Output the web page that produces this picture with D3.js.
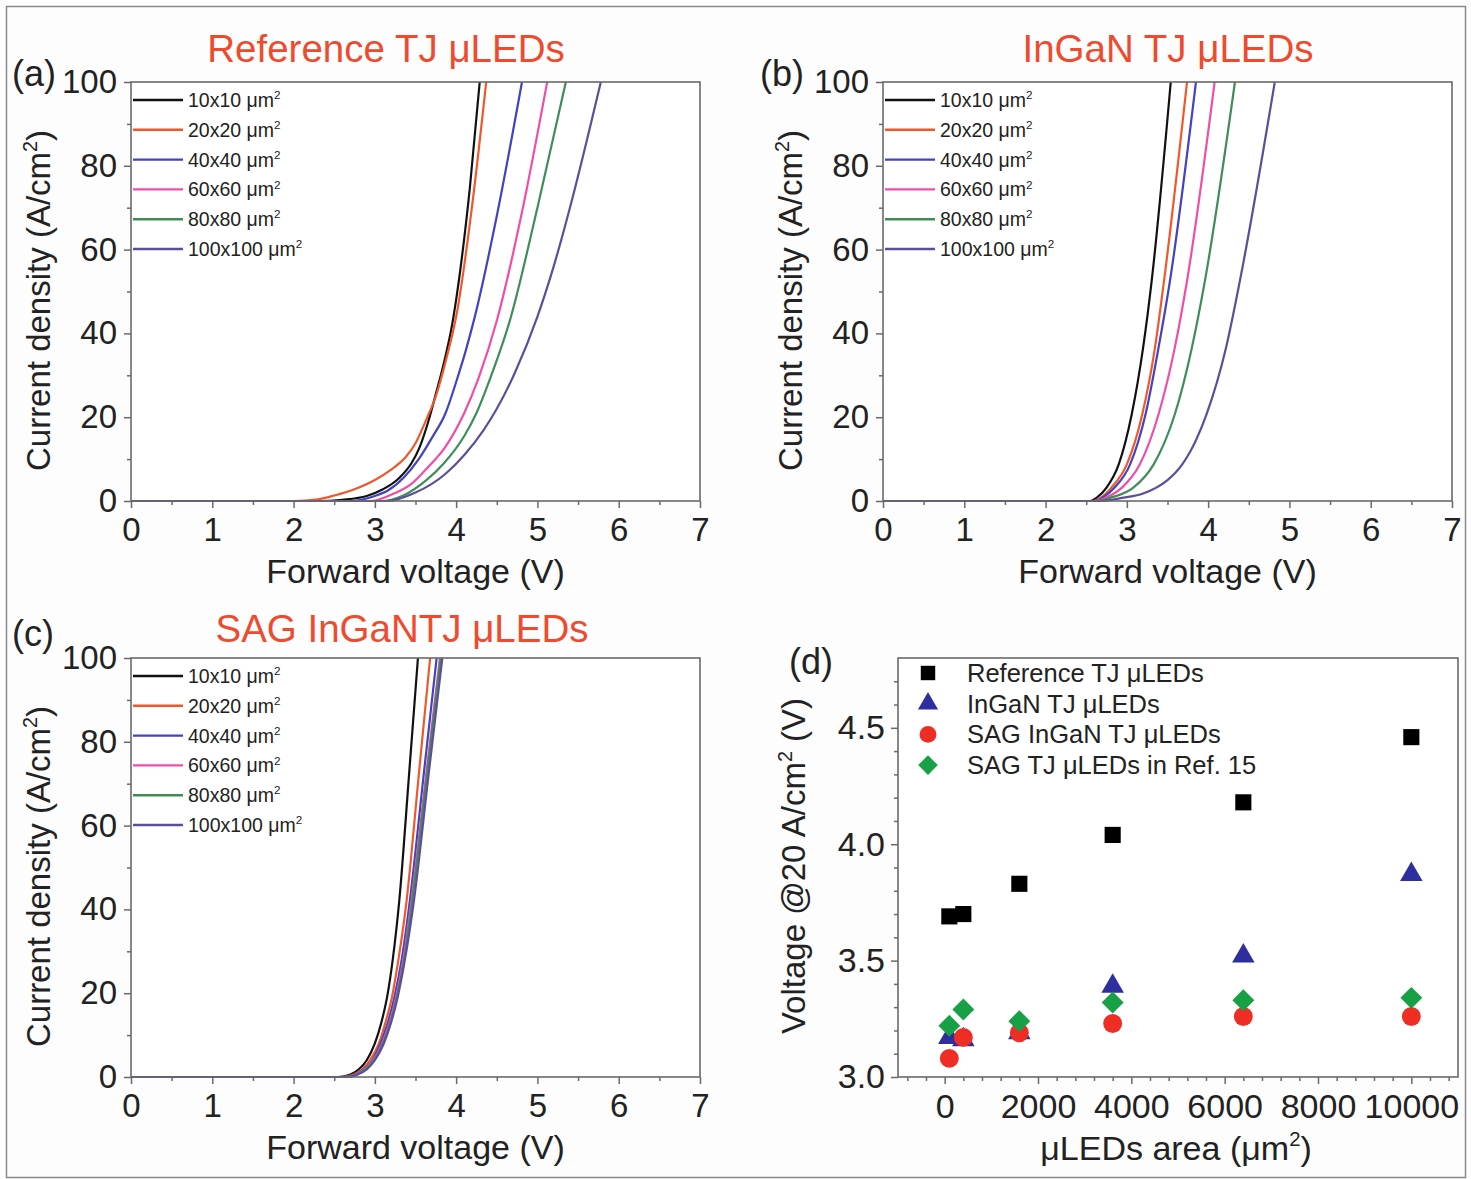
<!DOCTYPE html>
<html>
<head>
<meta charset="utf-8">
<script src="https://cdn.jsdelivr.net/npm/d3@7"></script>
<style>
  body { margin: 0; background: #ffffff; }
</style>
</head>
<body>
<script>
const width = 1471;
const height = 1179;
const font = "'Liberation Sans', Arial, Helvetica, sans-serif";

// ---- data ----
const sizes = ["10x10", "20x20", "40x40", "60x60", "80x80", "100x100"];
const voltTicks = [0, 1, 2, 3, 4, 5, 6, 7];
const voltMinor = [0.5, 1.5, 2.5, 3.5, 4.5, 5.5, 6.5];
const currentTicks = [0, 20, 40, 60, 80, 100];
const currentMinor = [10, 30, 50, 70, 90];

// (a) Reference TJ uLEDs: [voltage V, current density A/cm2]
const refTJ = [
  [[0, 0], [2.3, 0], [2.6, 0.3], [2.9, 1.2], [3.1, 2.8], [3.3, 5.5], [3.45, 9], [3.55, 12.8], [3.65, 18.5], [3.75, 25.5], [3.85, 33], [3.95, 42], [4.05, 55], [4.17, 75], [4.29, 100]],
  [[0, 0], [2.0, 0], [2.3, 0.4], [2.5, 1.3], [2.75, 2.8], [3.0, 5], [3.2, 7.5], [3.38, 10.5], [3.5, 13.8], [3.63, 19.3], [3.75, 25], [3.88, 34], [4.01, 45], [4.2, 71], [4.37, 100]],
  [[0, 0], [2.7, 0], [3.0, 1.2], [3.16, 2.5], [3.35, 5.5], [3.54, 10], [3.7, 15], [3.87, 21], [4.01, 29], [4.12, 36], [4.23, 44], [4.5, 68], [4.81, 100]],
  [[0, 0], [2.95, 0], [3.2, 1.5], [3.45, 4.1], [3.65, 8], [3.87, 13], [4.1, 21], [4.27, 29], [4.5, 43], [4.8, 68], [5.12, 100]],
  [[0, 0], [3.1, 0], [3.35, 1.3], [3.63, 4.9], [3.85, 9], [4.1, 15.5], [4.25, 21], [4.41, 28.8], [4.66, 43], [5.0, 70], [5.35, 100]],
  [[0, 0], [3.15, 0], [3.5, 2], [3.87, 6.5], [4.1, 11], [4.34, 17], [4.5, 22], [4.72, 30.5], [5.0, 44], [5.2, 56], [5.4, 70], [5.78, 100]]
];

// (b) InGaN TJ uLEDs
const inganTJ = [
  [[0, 0], [2.55, 0], [2.63, 0.8], [2.75, 3.2], [2.9, 8.75], [3.06, 20.7], [3.2, 36.6], [3.305, 52.5], [3.54, 100]],
  [[0, 0], [2.58, 0], [2.68, 0.8], [2.81, 3.2], [3.0, 8.75], [3.19, 20.7], [3.346, 36.6], [3.457, 52.5], [3.74, 100]],
  [[0, 0], [2.6, 0], [2.7, 0.8], [2.85, 3.2], [3.04, 8.75], [3.23, 20.7], [3.39, 36.6], [3.53, 52.5], [3.85, 100]],
  [[0, 0], [2.6, 0], [2.74, 0.8], [2.94, 3.2], [3.16, 8.75], [3.39, 20.7], [3.59, 36.6], [3.74, 52.5], [4.08, 100]],
  [[0, 0], [2.62, 0], [2.8, 0.8], [3.08, 3.2], [3.33, 8.75], [3.59, 20.7], [3.8, 36.6], [3.96, 52.5], [4.33, 100]],
  [[0, 0], [2.65, 0], [2.96, 0.8], [3.2, 1.8], [3.5, 5], [3.6, 6.8], [3.69, 9], [3.78, 11.8], [3.85, 14.5], [3.98, 20.7], [4.22, 36.6], [4.39, 52.5], [4.82, 100]]
];

// (c) SAG InGaN TJ uLEDs
const sagTJ = [
  [[0, 0], [2.55, 0], [2.7, 0.6], [2.8, 1.8], [2.9, 4], [3.0, 8], [3.08, 13], [3.15, 19], [3.22, 28], [3.3, 42], [3.42, 72], [3.53, 100]],
  [[0, 0], [2.6, 0], [2.74, 0.6], [2.84, 1.8], [2.94, 4], [3.05, 8], [3.13, 13], [3.21, 19], [3.29, 28], [3.39, 42], [3.54, 72], [3.68, 100]],
  [[0, 0], [2.62, 0], [2.76, 0.6], [2.86, 1.8], [2.97, 4], [3.07, 8], [3.16, 13], [3.24, 19], [3.33, 28], [3.43, 42], [3.6, 72], [3.76, 100]],
  [[0, 0], [2.63, 0], [2.77, 0.6], [2.87, 1.8], [2.98, 4], [3.09, 8], [3.18, 13], [3.26, 19], [3.35, 28], [3.45, 42], [3.63, 72], [3.8, 100]],
  [[0, 0], [2.64, 0], [2.78, 0.6], [2.88, 1.8], [2.99, 4], [3.1, 8], [3.19, 13], [3.27, 19], [3.36, 28], [3.46, 42], [3.64, 72], [3.81, 100]],
  [[0, 0], [2.65, 0], [2.79, 0.6], [2.9, 1.8], [3.0, 4], [3.11, 8], [3.2, 13], [3.28, 19], [3.37, 28], [3.48, 42], [3.66, 72], [3.83, 100]]
];

// (d) voltage at 20 A/cm2 vs area
const areas = [100, 400, 1600, 3600, 6400, 10000];
const vRefTJ = [3.69, 3.70, 3.83, 4.04, 4.18, 4.46];
const vInGaNTJ = [3.17, 3.16, 3.19, 3.39, 3.52, 3.87];
const vSagInGaNTJ = [3.08, 3.17, 3.19, 3.23, 3.26, 3.26];
const vSagRef15 = [3.22, 3.29, 3.24, 3.32, 3.33, 3.34];
const areaTicks = [0, 2000, 4000, 6000, 8000, 10000];
const areaMinor = [-800, -400, 400, 800, 1200, 1600, 2400, 2800, 3200, 3600, 4400, 4800, 5200, 5600, 6400, 6800, 7200, 7600, 8400, 8800, 9200, 9600, 10400, 10800];
const v20Ticks = [3.0, 3.5, 4.0, 4.5];
const v20Minor = [3.1, 3.2, 3.3, 3.4, 3.6, 3.7, 3.8, 3.9, 4.1, 4.2, 4.3, 4.4, 4.6, 4.7];

const colors = {
  curves: ["#111111", "#F0582C", "#4242C2", "#EE4EA8", "#3F8E58", "#5C4E9C"],
  title: "#EE4B2E",
  axis: "#6a6a6a",
  text: "#222222",
  square: "#000000",
  triangle: "#2E2E9E",
  circle: "#EE2E24",
  diamond: "#17A045"
};

const svg = d3.select("body").append("svg")
  .attr("width", width)
  .attr("height", height)
  .attr("viewBox", `0 0 ${width} ${height}`);

svg.append("rect").attr("width", width).attr("height", height).attr("fill", "#fdfdfd");
svg.append("rect")
  .attr("x", 6.5).attr("y", 6.5)
  .attr("width", 1459).attr("height", 1171)
  .attr("fill", "none").attr("stroke", "#8a8a8a").attr("stroke-width", 1.5);

function styleAxis(g, size) {
  g.select(".domain").remove();
  g.selectAll(".tick line").attr("stroke", colors.axis).attr("stroke-width", 1.5);
  g.selectAll("text")
    .attr("fill", colors.text)
    .attr("font-family", font)
    .attr("font-size", size);
}

function addText(x, y, str, opts = {}) {
  return svg.append("text")
    .attr("x", x).attr("y", y)
    .attr("fill", opts.fill || colors.text)
    .attr("font-family", font)
    .attr("font-size", opts.size || 33)
    .attr("text-anchor", opts.anchor || "middle")
    .text(str);
}

// text with a raised "2" after a base string
function supText(parent, base, after, size) {
  parent.append("tspan").text(base);
  parent.append("tspan").attr("font-size", size * 0.6).attr("dy", -size * 0.4).text("2");
  parent.append("tspan").attr("dy", size * 0.4).text(after);
}

function drawFrame(p) {
  svg.append("rect")
    .attr("x", p.left).attr("y", p.top)
    .attr("width", p.right - p.left).attr("height", p.bottom - p.top)
    .attr("fill", "#ffffff");
}

function drawFrameLine(p) {
  svg.append("rect")
    .attr("x", p.left).attr("y", p.top)
    .attr("width", p.right - p.left).attr("height", p.bottom - p.top)
    .attr("fill", "none").attr("stroke", colors.axis).attr("stroke-width", 1.6);
}

function drawIV(p) {
  const x = d3.scaleLinear().domain([0, 7]).range([p.left, p.right]);
  const y = d3.scaleLinear().domain([0, 100]).range([p.bottom, p.top]);

  drawFrame(p);

  svg.append("g").attr("transform", `translate(0,${p.bottom})`)
    .call(d3.axisBottom(x).tickValues(voltMinor).tickSize(4).tickFormat(""))
    .call((g) => styleAxis(g, 33));
  svg.append("g").attr("transform", `translate(0,${p.bottom})`)
    .call(d3.axisBottom(x).tickValues(voltTicks).tickSize(7).tickPadding(10).tickFormat(d3.format("d")))
    .call((g) => styleAxis(g, 33));
  svg.append("g").attr("transform", `translate(${p.left},0)`)
    .call(d3.axisLeft(y).tickValues(currentMinor).tickSize(4).tickFormat(""))
    .call((g) => styleAxis(g, 33));
  svg.append("g").attr("transform", `translate(${p.left},0)`)
    .call(d3.axisLeft(y).tickValues(currentTicks).tickSize(7).tickPadding(7).tickFormat(d3.format("d")))
    .call((g) => styleAxis(g, 33));

  const line = d3.line()
    .x((d) => x(d[0]))
    .y((d) => y(d[1]))
    .curve(d3.curveMonotoneX);

  svg.append("g").selectAll("path")
    .data(p.curves)
    .join("path")
    .attr("d", line)
    .attr("fill", "none")
    .attr("stroke", (d, i) => colors.curves[i])
    .attr("stroke-width", 2.2);

  drawFrameLine(p);

  // legend
  const leg = svg.append("g").attr("transform", `translate(${p.left + 2},${p.top + 18})`);
  sizes.forEach((s, i) => {
    const row = leg.append("g").attr("transform", `translate(0,${i * 29.8})`);
    row.append("line").attr("x1", 0).attr("x2", 50).attr("y1", 0).attr("y2", 0)
      .attr("stroke", colors.curves[i]).attr("stroke-width", 2.4);
    const t = row.append("text").attr("x", 55).attr("y", 7)
      .attr("fill", colors.text).attr("font-family", font).attr("font-size", 19.5);
    supText(t, `${s} \u03bcm`, "", 19.5);
  });

  // titles
  addText(p.titleX, p.titleY, p.title, { fill: colors.title, size: 38.5 });
  addText(p.labelX, p.labelY, p.label, { size: 36, anchor: "start" });
  addText((p.left + p.right) / 2, p.bottom + 82, "Forward voltage (V)", { size: 34 });
  const yt = svg.append("text")
    .attr("transform", `translate(${p.left - 81},${(p.top + p.bottom) / 2 + 9}) rotate(-90)`)
    .attr("text-anchor", "middle")
    .attr("fill", colors.text).attr("font-family", font).attr("font-size", 33);
  supText(yt, "Current density (A/cm", ")", 33);
}

drawIV({ left: 131, right: 700, top: 82, bottom: 501, curves: refTJ,
  title: "Reference TJ \u03bcLEDs", titleX: 386, titleY: 62, label: "(a)", labelX: 12, labelY: 86 });
drawIV({ left: 883, right: 1452, top: 82, bottom: 501, curves: inganTJ,
  title: "InGaN TJ \u03bcLEDs", titleX: 1168, titleY: 62, label: "(b)", labelX: 760, labelY: 86 });
drawIV({ left: 131, right: 700, top: 658, bottom: 1077, curves: sagTJ,
  title: "SAG InGaNTJ \u03bcLEDs", titleX: 402, titleY: 642, label: "(c)", labelX: 12, labelY: 646 });

// ---- panel (d) ----
const pd = { left: 898, right: 1458, top: 658, bottom: 1077 };
const xd = d3.scaleLinear().domain([-1000, 11000]).range([pd.left, pd.right]);
const yd = d3.scaleLinear().domain([3.0, 4.8]).range([pd.bottom, pd.top]);

drawFrame(pd);
svg.append("g").attr("transform", `translate(0,${pd.bottom})`)
  .call(d3.axisBottom(xd).tickValues(areaMinor).tickSize(4).tickFormat(""))
  .call((g) => styleAxis(g, 34));
svg.append("g").attr("transform", `translate(0,${pd.bottom})`)
  .call(d3.axisBottom(xd).tickValues(areaTicks).tickSize(7).tickPadding(10).tickFormat(d3.format("d")))
  .call((g) => styleAxis(g, 34));
svg.append("g").attr("transform", `translate(${pd.left},0)`)
  .call(d3.axisLeft(yd).tickValues(v20Minor).tickSize(4).tickFormat(""))
  .call((g) => styleAxis(g, 34));
svg.append("g").attr("transform", `translate(${pd.left},0)`)
  .call(d3.axisLeft(yd).tickValues(v20Ticks).tickSize(7).tickPadding(6).tickFormat(d3.format(".1f")))
  .call((g) => styleAxis(g, 34));

const markerSeries = [
  { name: "Reference TJ \u03bcLEDs", values: vRefTJ, type: d3.symbolSquare, size: 260, rotate: 0, color: colors.square },
  { name: "InGaN TJ \u03bcLEDs", values: vInGaNTJ, type: d3.symbolTriangle, size: 220, rotate: 0, color: colors.triangle },
  { name: "SAG InGaN TJ \u03bcLEDs", values: vSagInGaNTJ, type: d3.symbolCircle, size: 280, rotate: 0, color: colors.circle },
  { name: "SAG TJ \u03bcLEDs in Ref. 15", values: vSagRef15, type: d3.symbolSquare, size: 240, rotate: 45, color: colors.diamond }
];

markerSeries.forEach((s) => {
  const sym = d3.symbol().type(s.type).size(s.size);
  svg.append("g").selectAll("path")
    .data(areas.map((a, i) => [a, s.values[i]]))
    .join("path")
    .attr("d", sym)
    .attr("transform", (d) => `translate(${xd(d[0])},${yd(d[1])}) rotate(${s.rotate})`)
    .attr("fill", s.color);
});

const legD = svg.append("g").attr("transform", `translate(928,673)`);
markerSeries.forEach((s, i) => {
  const row = legD.append("g").attr("transform", `translate(0,${i * 30.7})`);
  row.append("path")
    .attr("d", d3.symbol().type(s.type).size(s.size * 0.8))
    .attr("transform", `rotate(${s.rotate})`)
    .attr("fill", s.color);
  row.append("text").attr("x", 39).attr("y", 9)
    .attr("fill", colors.text).attr("font-family", font).attr("font-size", 25.5)
    .text(s.name);
});

drawFrameLine(pd);

addText(789, 674, "(d)", { size: 36, anchor: "start" });
const xdt = svg.append("text")
  .attr("x", 1176).attr("y", 1160)
  .attr("text-anchor", "middle")
  .attr("fill", colors.text).attr("font-family", font).attr("font-size", 34);
supText(xdt, "\u03bcLEDs area (\u03bcm", ")", 34);
const ydt = svg.append("text")
  .attr("transform", `translate(805,866) rotate(-90)`)
  .attr("text-anchor", "middle")
  .attr("fill", colors.text).attr("font-family", font).attr("font-size", 33);
supText(ydt, "Voltage @20 A/cm", " (V)", 33);
</script>
</body>
</html>
